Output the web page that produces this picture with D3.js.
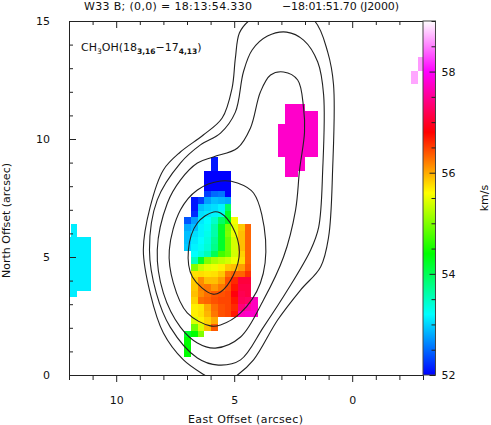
<!DOCTYPE html>
<html>
<head>
<meta charset="utf-8">
<script src="https://cdn.jsdelivr.net/npm/d3@7"></script>
<style>
  html, body { margin: 0; padding: 0; background: #fff; }
  svg { display: block; }
  text { font-family: "DejaVu Sans", sans-serif; font-size: 11px; fill: #111; }
</style>
</head>
<body>
<div id="chart-area"></div>
<script>
// velocity colour bar
var velStops = [52, 53.2, 54.4, 55.6, 56.8, 58, 59];
var velColors = ["#0000ff", "#00ffff", "#00ff00", "#ffff00", "#ff0000", "#ff00ff", "#ffffff"];
var velTicks = [52, 54, 56, 58];

// axis ticks (arcsec)
var eastTicks = [12, 11, 10, 9, 8, 7, 6, 5, 4, 3, 2, 1, 0, -1, -2, -3];
var northTicks = [0, 1, 2, 3, 4, 5, 6, 7, 8, 9, 10, 11, 12, 13, 14, 15];
var eastLabels = [10, 5, 0];
var northLabels = [0, 5, 10, 15];

// pixel size of the map (arcsec)
var cell = 0.283;

// main clump: left/top edges of the pixels in offset, km/s in each pixel
var coreEast = [7.11, 6.83, 6.55, 6.26, 5.98, 5.70, 5.41, 5.13, 4.85, 4.56, 4.28];
var coreNorth = [9.22, 8.94, 8.66, 8.37, 8.09, 7.81, 7.53, 7.24, 6.96, 6.68, 6.40, 6.11, 5.83, 5.55, 5.27,
                 4.98, 4.70, 4.42, 4.14, 3.85, 3.57, 3.29, 3.01, 2.72, 2.44, 2.16, 1.88, 1.59, 1.31, 1.03];
var _ = null;
var coreVel = [
  [_, _, _, _, 52.1, _, _, _, _, _, _],
  [_, _, _, _, 52.1, _, _, _, _, _, _],
  [_, _, _, 52.0, 52.0, 52.0, 52.0, _, _, _, _],
  [_, _, _, 52.0, 52.0, 52.0, 52.0, _, _, _, _],
  [_, _, _, 52.0, 52.0, 52.0, 52.0, _, _, _, _],
  [_, _, _, 52.3, 52.5, 52.55, 52.0, _, _, _, _],
  [_, 52.1, 52.3, 52.75, 52.9, 52.85, 52.8, _, _, _, _],
  [_, 52.1, 52.9, 53.0, 53.05, 53.15, 53.93, _, _, _, _],
  [_, 52.2, 53.05, 53.1, 53.15, 53.3, 54.2, _, _, _, _],
  [52.4, 52.75, 53.1, 53.2, 53.45, 53.93, 54.26, 55.55, _, _, _],
  [52.8, 52.9, 53.15, 53.25, 53.6, 54.2, 54.96, 55.48, 55.86, 56.33, _],
  [52.9, 53.05, 53.15, 53.3, 53.6, 54.2, 55.0, 55.5, 55.9, 56.33, _],
  [52.9, 53.1, 53.2, 53.35, 53.7, 54.2, 54.9, 55.4, 55.9, 56.33, _],
  [52.95, 53.15, 53.25, 53.4, 53.75, 54.2, 54.9, 55.4, 55.9, 56.33, _],
  [_, 53.2, 53.35, 53.55, 54.0, 54.7, 54.87, 55.39, 55.81, 56.33, _],
  [_, 53.5, 54.2, 55.0, 55.2, 55.3, 55.39, 55.53, 55.76, 56.33, _],
  [_, 55.0, 55.34, 55.48, 55.53, 55.67, 55.86, 55.9, 56.05, 56.38, _],
  [_, 55.74, 55.76, 55.72, 55.74, 55.86, 56.24, 56.33, 56.33, 56.56, _],
  [_, 55.84, 56.14, 55.9, 55.9, 56.05, 56.42, 56.61, 57.08, 57.08, _],
  [_, 55.86, 56.19, 56.24, 56.09, 56.24, 56.42, 56.7, 57.13, 57.13, _],
  [_, 55.9, 56.14, 56.28, 56.38, 56.42, 56.47, 56.85, 57.18, 57.13, _],
  [_, 55.81, 56.28, 56.33, 56.42, 56.47, 56.47, 56.7, 57.22, 57.27, 57.7],
  [_, 55.67, 55.72, 56.0, 56.28, 56.42, 56.47, 56.61, 57.36, 57.6, 57.7],
  [_, 55.67, 55.74, 55.95, 56.24, 56.42, 56.47, 56.7, 57.7, 57.74, 57.74],
  [_, 55.43, 55.67, 55.81, 56.0, _, _, _, _, _, _],
  [_, 54.92, 55.43, 55.9, 56.38, _, _, _, _, _, _],
  [54.2, 54.4, 55.0, _, _, _, _, _, _, _, _],
  [54.4, _, _, _, _, _, _, _, _, _, _],
  [54.4, _, _, _, _, _, _, _, _, _, _],
  [54.4, _, _, _, _, _, _, _, _, _, _]
];

// western patch at the map edge
var westEast = [12.21, 11.93, 11.64, 11.36];
var westNorth = [6.40, 6.11, 5.83, 5.55, 5.27, 4.98, 4.70, 4.42, 4.14, 3.85, 3.57];
var westVel = [
  [_, 53.12, _, _],
  [_, 53.12, _, _],
  [53.12, 53.12, 53.12, 53.12],
  [53.12, 53.12, 53.12, 53.12],
  [53.12, 53.12, 53.12, 53.12],
  [53.12, 53.12, 53.12, 53.12],
  [53.12, 53.12, 53.12, 53.12],
  [53.12, 53.12, 53.12, 53.12],
  [53.12, 53.12, 53.12, 53.12],
  [53.12, 53.12, 53.12, 53.12],
  [53.12, 53.12, _, _]
];

// magenta patch in the NE lobe
var lobeEast = [3.15, 2.86, 2.58, 2.30, 2.02, 1.73];
var lobeNorth = [11.48, 11.20, 10.91, 10.63, 10.35, 10.07, 9.78, 9.50, 9.22, 8.94, 8.66];
var lobeVel = [
  [_, 57.75, 57.75, 57.75, _, _],
  [_, 57.75, 57.75, 57.75, 57.75, 57.75],
  [_, 57.75, 57.75, 57.75, 57.75, 57.75],
  [57.75, 57.75, 57.75, 57.75, 57.75, 57.75],
  [57.75, 57.75, 57.75, 57.75, 57.75, 57.75],
  [57.75, 57.75, 57.75, 57.75, 57.75, 57.75],
  [57.75, 57.75, 57.75, 57.75, 57.75, 57.75],
  [57.75, 57.75, 57.75, 57.75, 57.75, 57.75],
  [_, 57.75, 57.75, 57.75, _, _],
  [_, 57.75, 57.75, 57.75, _, _],
  [_, 57.75, 57.75, _, _, _]
];

// pale patch at the right edge
var edgeEast = [-2.51, -2.80];
var edgeNorth = [13.46, 13.18, 12.89, 12.61];
var edgeVel = [
  [_, 58.6],
  [_, 58.6],
  [58.65, _],
  [58.65, _]
];

// contours, [east, north] in arcsec
var contourA = [[3.0, 15.8], [4.39, 15.0], [4.78, 14.49], [4.95, 13.43], [5.09, 12.16], [5.51, 10.89], [6.31, 10.17],
  [7.28, 9.45], [8.0, 8.69], [8.56, 7.12], [8.85, 5.3], [8.56, 3.47], [8.0, 1.78], [7.15, 0.64], [6.26, 0],
  [5.55, -0.4], [4.86, 0], [4.18, 0.64], [3.16, 2.33], [2.19, 3.6], [1.34, 4.58], [1.0, 5.85], [0.83, 8.69],
  [0.79, 12.29], [1.04, 13.69], [1.59, 15]];
var contourB = [[2.78, 14.53], [3.59, 14.36], [4.24, 13.77], [4.61, 12.84], [4.95, 11.14], [5.58, 10.25], [6.43, 9.75],
  [7.28, 8.98], [8.26, 7.42], [8.59, 5.3], [8.3, 3.47], [7.71, 2.03], [6.56, 0.72], [5.67, 0.42], [4.73, 0.64],
  [3.76, 2.03], [2.74, 3.6], [1.76, 5.3], [1.42, 6.27], [1.25, 8.69], [1.21, 11.86], [1.46, 13.26], [2.06, 14.19]];
var contourC = [[2.91, 12.84], [3.46, 12.71], [3.89, 11.99], [4.31, 10.47], [4.86, 9.62], [5.88, 9.24], [6.56, 8.98],
  [7.28, 8.26], [7.83, 7.29], [8.26, 5.3], [8.0, 3.47], [7.28, 2.03], [6.56, 1.36], [5.8, 1.14], [4.73, 1.61],
  [3.76, 3.18], [2.91, 5.0], [2.4, 6.99], [2.23, 8.69], [2.02, 10.3], [2.06, 11.31], [2.31, 12.5]];
var contourD = [[5.58, 8.22], [6.56, 7.84], [7.28, 6.99], [7.75, 5.3], [7.58, 3.9], [6.99, 2.63], [6.01, 2.08],
  [5.58, 2.12], [4.73, 2.63], [3.89, 3.9], [3.67, 5.72], [4.18, 7.71], [4.86, 8.14]];
var contourE = [[5.88, 6.91], [6.56, 6.44], [6.94, 5.3], [6.77, 4.15], [5.92, 3.43], [5.58, 3.52], [5.03, 4.24],
  [4.78, 5.21], [5.07, 6.27], [5.58, 6.86]];


var width = 491, height = 425;
var margin = {top: 21, right: 68, bottom: 50, left: 69};

var svg = d3.select("#chart-area").append("svg")
    .attr("width", width)
    .attr("height", height);

var x = d3.scaleLinear().domain([12, -3]).range([margin.left, width - margin.right]);
var y = d3.scaleLinear().domain([0, 15]).range([height - margin.bottom, margin.top]);

var color = d3.scaleLinear().domain(velStops).range(velColors).clamp(true);

svg.append("clipPath").attr("id", "plot-clip")
  .append("rect")
    .attr("x", x(12)).attr("y", y(15))
    .attr("width", x(-3) - x(12)).attr("height", y(0) - y(15));

var plot = svg.append("g").attr("clip-path", "url(#plot-clip)");

// velocity pixels, far edge comes from the next entry so no seams show
function drawCells(east, north, vel) {
    north.forEach(function (n, r) {
        east.forEach(function (e, c) {
            if (vel[r][c] === null) return;
            var eNext = c + 1 < east.length ? east[c + 1] : e - cell;
            var nNext = r + 1 < north.length ? north[r + 1] : n - cell;
            var x0 = Math.round(x(e)), x1 = Math.round(x(eNext));
            var y0 = Math.round(y(n)), y1 = Math.round(y(nNext));
            plot.append("rect")
                .attr("x", x0).attr("y", y0)
                .attr("width", x1 - x0).attr("height", y1 - y0)
                .attr("fill", color(vel[r][c]));
        });
    });
}
drawCells(coreEast, coreNorth, coreVel);
drawCells(westEast, westNorth, westVel);
drawCells(lobeEast, lobeNorth, lobeVel);
drawCells(edgeEast, edgeNorth, edgeVel);

// contours
var line = d3.line()
    .x(function (d) { return x(d[0]); })
    .y(function (d) { return y(d[1]); })
    .curve(d3.curveCatmullRomClosed.alpha(0.5));

plot.selectAll("path.contour")
    .data([contourA, contourB, contourC, contourD, contourE])
    .enter().append("path")
    .attr("class", "contour")
    .attr("d", line)
    .attr("fill", "none")
    .attr("stroke", "#222")
    .attr("stroke-width", 1.1);

// axes, ticks all run down / left like the original plot
function styleTicks(g, isMajor, major, minor, attr) {
    g.selectAll(".tick line")
        .attr(attr, function (d) { return isMajor(d) ? major : minor; })
        .attr("stroke", "#222");
    g.select(".domain").attr("stroke", "#222");
}
function every5(d) { return d % 5 === 0; }

var xBottom = d3.axisBottom(x).tickValues(eastTicks).tickSizeOuter(0)
    .tickFormat(function (d) { return eastLabels.indexOf(d) >= 0 ? d : ""; });
var gxBottom = svg.append("g")
    .attr("transform", "translate(0," + y(0) + ")")
    .call(xBottom)
    .call(styleTicks, every5, 7, 5, "y2");
gxBottom.selectAll(".tick text").attr("y", 25).attr("dy", "0.32em")
    .style("font-family", "DejaVu Sans").style("font-size", "11px");

var gxTop = svg.append("g")
    .attr("transform", "translate(0," + y(15) + ")")
    .call(d3.axisBottom(x).tickValues(eastTicks).tickSizeOuter(0).tickFormat(""))
    .call(styleTicks, every5, 7, 4, "y2");

var yLeft = d3.axisLeft(y).tickValues(northTicks).tickSizeOuter(0)
    .tickFormat(function (d) { return northLabels.indexOf(d) >= 0 ? d : ""; });
var gyLeft = svg.append("g")
    .attr("transform", "translate(" + x(12) + ",0)")
    .call(yLeft)
    .call(styleTicks, every5, 7, 4, "x2");
gyLeft.selectAll(".tick text").attr("x", -19)
    .style("font-family", "DejaVu Sans").style("font-size", "11px");

// colour bar
var barX = x(-3), barW = 12.5;
var barScale = d3.scaleLinear().domain([52, 59]).range([y(0), y(15)]);

var grad = svg.append("defs").append("linearGradient")
    .attr("id", "vel-grad")
    .attr("x1", 0).attr("x2", 0).attr("y1", 1).attr("y2", 0);
velStops.forEach(function (v, i) {
    grad.append("stop")
        .attr("offset", (v - 52) / 7)
        .attr("stop-color", velColors[i]);
});
svg.append("rect")
    .attr("x", barX).attr("y", y(15))
    .attr("width", barW).attr("height", y(0) - y(15))
    .attr("fill", "url(#vel-grad)")
    .attr("stroke", "#444");

var barAxis = d3.axisRight(barScale).tickValues(d3.range(52, 59.01, 0.5)).tickSizeOuter(0)
    .tickFormat(function (d) { return velTicks.indexOf(d) >= 0 ? d : ""; });
var gBar = svg.append("g")
    .attr("transform", "translate(" + (barX + barW) + ",0)")
    .call(barAxis);
gBar.select(".domain").remove();
gBar.selectAll(".tick line")
    .attr("x2", function (d) { return velTicks.indexOf(d) >= 0 ? -6 : -4; })
    .attr("stroke", "#222");
gBar.selectAll(".tick text").attr("x", 6)
    .style("font-family", "DejaVu Sans").style("font-size", "11px");

// text
svg.append("text").attr("x", 84).attr("y", 10)
    .attr("textLength", 168).attr("lengthAdjust", "spacing")
    .text("W33 B; (0,0) = 18:13:54.330");
svg.append("text").attr("x", 282).attr("y", 10)
    .attr("textLength", 117).attr("lengthAdjust", "spacing")
    .text("\u221218:01:51.70 (J2000)");

svg.append("text").attr("x", 188).attr("y", 423)
    .attr("textLength", 115).attr("lengthAdjust", "spacing")
    .text("East Offset (arcsec)");

svg.append("text").attr("transform", "translate(10,278) rotate(-90)")
    .attr("textLength", 115).attr("lengthAdjust", "spacing")
    .text("North Offset (arcsec)");

svg.append("text").attr("transform", "translate(488,198) rotate(-90)").attr("text-anchor", "middle")
    .text("km/s");

var mol = svg.append("text").attr("x", 81).attr("y", 51);
mol.append("tspan").text("CH");
mol.append("tspan").attr("dy", 3).style("font-size", "7.5px").text("3");
mol.append("tspan").attr("dy", -3).text("OH(18");
mol.append("tspan").attr("dy", 3).style("font-size", "7.5px").style("font-weight", "bold").text("3,16");
mol.append("tspan").attr("dy", -3).text("\u221217");
mol.append("tspan").attr("dy", 3).style("font-size", "7.5px").style("font-weight", "bold").text("4,13");
mol.append("tspan").attr("dy", -3).text(")");
</script>
</body>
</html>
